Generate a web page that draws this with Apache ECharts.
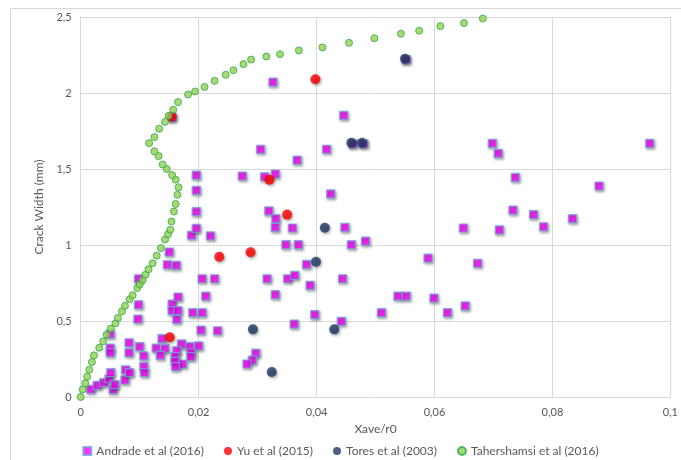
<!DOCTYPE html>
<html><head><meta charset="utf-8">
<script src="https://cdn.jsdelivr.net/npm/echarts@6/dist/echarts.min.js"></script>
<style>html,body{margin:0;padding:0;background:#fff}#c{width:681px;height:460px}</style>
</head><body><div id="c"></div>
<script>
const xTicks = ["0","0,02","0,04","0,06","0,08","0,1"];
const yTicks = ["0","0,5","1","1,5","2","2,5"];
const seriesNames = ["Andrade et al (2016)","Yu et al (2015)","Tores et al (2003)","Tahershamsi et al (2016)"];

const andrade = [
[0.0017,0.051],[0.0028,0.077],[0.0039,0.094],[0.0048,0.12],[0.0051,0.16],[0.0055,0.048],[0.0058,0.081],[0.0075,0.112],[0.0076,0.178],[0.0083,0.16],
[0.0050,0.322],[0.0050,0.291],[0.0050,0.414],[0.0082,0.357],[0.0082,0.291],[0.0100,0.331],[0.0107,0.27],[0.0107,0.2],[0.0108,0.16],
[0.0097,0.513],[0.0098,0.607],[0.0098,0.778],
[0.0138,0.384],[0.0128,0.322],[0.0143,0.318],[0.0135,0.274],[0.0171,0.349],[0.0185,0.331],[0.0200,0.336],[0.0163,0.305],[0.0187,0.291],[0.0160,0.265],[0.0187,0.265],[0.0160,0.235],[0.0173,0.217],[0.0161,0.2],
[0.0155,0.612],[0.0155,0.568],[0.0165,0.568],[0.0163,0.511],[0.0190,0.555],[0.0206,0.555],[0.0204,0.44],[0.0232,0.436],
[0.0165,0.658],[0.0212,0.664],[0.0206,0.778],[0.0227,0.778],
[0.0147,0.87],[0.0162,0.866],[0.015,0.954],
[0.0188,1.064],[0.022,1.06],[0.0196,1.11],[0.0196,1.22],[0.0196,1.36],[0.0196,1.46],
[0.0155,1.84],
[0.0274,1.454],[0.0305,1.63],[0.0312,1.449],[0.033,1.467],[0.0326,2.072],[0.0367,1.559],[0.0417,1.63],[0.0446,1.853],[0.0424,1.336],
[0.0319,1.224],[0.0331,1.173],[0.033,1.116],[0.0359,1.112],[0.0448,1.116],[0.0348,1.002],[0.0369,1.002],[0.0459,1.002],[0.0483,1.026],[0.0383,0.872],
[0.0649,1.112],[0.0589,0.914],[0.0673,0.88],
[0.0316,0.778],[0.0351,0.778],[0.0363,0.80],[0.0444,0.778],[0.0389,0.735],[0.033,0.673],
[0.0538,0.664],[0.0552,0.664],[0.0599,0.651],[0.0622,0.555],[0.0652,0.599],[0.051,0.555],[0.0397,0.542],[0.0442,0.498],[0.0362,0.48],
[0.0297,0.288],[0.0291,0.243],[0.0282,0.217],
[0.0698,1.669],[0.0708,1.603],[0.0965,1.669],[0.0737,1.445],[0.0879,1.388],[0.0733,1.23],[0.0768,1.2],[0.0785,1.12],[0.071,1.099],[0.0834,1.173],
[0.0462,1.665],[0.048,1.665],[0.0552,2.22]
];
const yu = [[0.0154,1.845],[0.0398,2.09],[0.032,1.43],[0.035,1.2],[0.0288,0.952],[0.0235,0.923],[0.0151,0.393]];
const tores = [[0.055,2.225],[0.0459,1.673],[0.0477,1.673],[0.0414,1.114],[0.0399,0.89],[0.0292,0.445],[0.043,0.445],[0.0324,0.164]];
const tahershamsi = [
[0,0],[0.00034,0.05],[0.00078,0.09],[0.0011,0.134],[0.00146,0.18],[0.0019,0.23],[0.00225,0.274],[0.00315,0.324],[0.0038,0.366],[0.0044,0.41],
[0.0051,0.45],[0.0059,0.485],[0.0063,0.52],[0.007,0.564],[0.0075,0.6],[0.0083,0.643],[0.0088,0.67],[0.0096,0.717],[0.01,0.74],[0.0105,0.77],
[0.011,0.805],[0.0115,0.84],[0.0122,0.88],[0.0129,0.93],[0.0136,0.98],[0.0143,1.036],[0.0148,1.07],[0.0152,1.10],[0.0154,1.155],[0.0158,1.22],
[0.0161,1.27],[0.0164,1.33],[0.0166,1.38],[0.0161,1.43],[0.0155,1.46],[0.0146,1.5],[0.0139,1.53],[0.0132,1.585],[0.0125,1.616],[0.0116,1.67],
[0.0125,1.71],[0.0133,1.765],[0.0143,1.81],[0.0149,1.85],[0.0157,1.89],[0.0165,1.94],[0.0182,1.99],[0.0194,2.01],[0.021,2.04],[0.0227,2.08],
[0.0246,2.12],[0.0259,2.15],[0.0276,2.19],[0.0289,2.22],[0.0315,2.24],[0.0338,2.255],[0.037,2.28],[0.041,2.30],[0.0455,2.33],[0.0498,2.36],
[0.0543,2.39],[0.0574,2.41],[0.061,2.44],[0.065,2.46],[0.0682,2.49]
];

const FONT = 'Lato';
const TXT = '#595959';
const shadow = {shadowBlur:3, shadowColor:'rgba(0,0,0,0.45)', shadowOffsetX:1, shadowOffsetY:1.5};
const chart = echarts.init(document.getElementById('c'), null, {renderer:'canvas'});
const fmt = (arr, step) => v => arr[Math.round(v/step)] ?? '';
chart.setOption({
  animation:false,
  textStyle:{fontFamily:FONT, color:TXT},
  graphic:[{type:'rect', shape:{x:10.5,y:8.5,width:700,height:500}, style:{fill:'none', stroke:'#d9d9d9', lineWidth:1}, z:-1}],
  grid:{left:80.7, right:9.7, top:17, bottom:63},
  legend:{
    left:'center', top:440, itemGap:20, itemWidth:8, itemHeight:8,
    textStyle:{fontFamily:FONT, fontSize:12, color:TXT},
    data:[
      {name:seriesNames[0], icon:'rect'},
      {name:seriesNames[1], icon:'circle'},
      {name:seriesNames[2], icon:'circle'},
      {name:seriesNames[3], icon:'circle'}
    ]
  },
  xAxis:{
    type:'value', min:0, max:0.1, interval:0.02,
    name:'Xave/r0', nameLocation:'middle', nameGap:26,
    nameTextStyle:{fontFamily:FONT, fontSize:12, color:TXT},
    axisLine:{show:true, lineStyle:{color:'#d9d9d9', width:1}},
    axisTick:{show:false},
    axisLabel:{formatter:fmt(xTicks,0.02), fontFamily:FONT, fontSize:11, color:TXT, margin:10},
    splitLine:{show:true, lineStyle:{color:'#d9d9d9', width:1}}
  },
  yAxis:{
    type:'value', min:0, max:2.5, interval:0.5,
    name:'Crack Width (mm)', nameLocation:'middle', nameGap:34,
    nameTextStyle:{fontFamily:FONT, fontSize:12, color:TXT},
    axisLine:{show:true, lineStyle:{color:'#d9d9d9', width:1}},
    axisTick:{show:false},
    axisLabel:{formatter:fmt(yTicks,0.5), fontFamily:FONT, fontSize:11, color:TXT, margin:9},
    splitLine:{show:true, lineStyle:{color:'#d9d9d9', width:1}}
  },
  series:[
    {name:seriesNames[0], type:'scatter', data:andrade, symbol:'rect', symbolSize:8,
     itemStyle:Object.assign({color:'#ff00ff', borderColor:'#6fa8dc', borderWidth:1.2}, shadow)},
    {name:seriesNames[1], type:'scatter', data:yu, symbol:'circle', symbolSize:10,
     itemStyle:Object.assign({color:'#ff0000'}, shadow)},
    {name:seriesNames[2], type:'scatter', data:tores, symbol:'circle', symbolSize:10,
     itemStyle:Object.assign({color:'#203864'}, shadow)},
    {name:seriesNames[3], type:'scatter', data:tahershamsi, symbol:'circle', symbolSize:7,
     itemStyle:{color:'#92d050', borderColor:'#2fa84f', borderWidth:1}}
  ]
});
</script></body></html>
